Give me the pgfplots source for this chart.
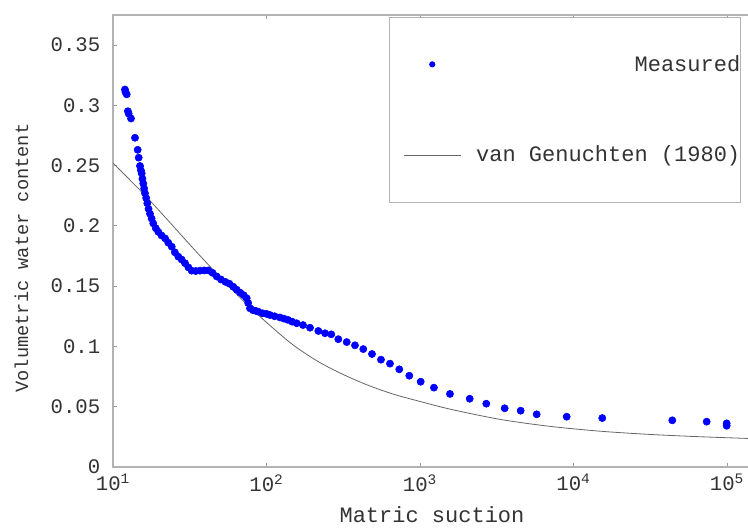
\documentclass[border=0pt]{standalone}
\usepackage{pgfplots}
\pgfplotsset{compat=1.18}
\usepackage{fontspec}
\setmainfont{Liberation Mono}
\begin{document}
\begin{tikzpicture}
\begin{axis}[
  scale only axis,
  width=483.5pt, height=339pt,
  xmode=log,
  xmin=10, xmax=158489,
  ymin=0, ymax=0.3748,
  xtick={10,100,1000,10000,100000},
  xticklabels={10\textsuperscript{1},10\textsuperscript{2},10\textsuperscript{3},10\textsuperscript{4},10\textsuperscript{5}},
  ytick={0,0.05,0.1,0.15,0.2,0.25,0.3,0.35},
  yticklabels={0,0.05,0.1,0.15,0.2,0.25,0.3,0.35},
  xminorticks=false,
  tick align=inside,
  major tick length=3pt,
  tick style={black!40, line width=0.6pt},
  axis line style={black!30, line width=0.8pt},
  ticklabel style={font=\fontsize{15.5}{18}\selectfont, text=black!80},
  yticklabel style={xshift=-6pt},
  xticklabel style={yshift=-2pt},
  every axis x label/.style={at={(rel axis cs:0.4948,0)}, yshift=-36pt, anchor=center, font=\fontsize{16.5}{19}\selectfont, text=black!80},
  every axis y label/.style={at={(rel axis cs:0,0.4624)}, xshift=-68.6pt, rotate=90, anchor=center, font=\fontsize{14}{16}\selectfont, text=black!80},
  xlabel={Matric suction},
  ylabel={Volumetric water content},
  legend cell align=right,
  legend style={
    at={(rel axis cs:0.428,0.9956)}, anchor=north west,
    draw=black!30, line width=0.6pt, fill=white,
    font=\fontsize{16.5}{19}\selectfont, text=black!80,
    inner xsep=0pt, inner ysep=28.5pt,
    row sep=54.5pt,
    nodes={inner sep=0pt},
    /tikz/every odd column/.append style={column sep=11.25pt},
  },
  legend image code/.code={\path (0pt,0pt); \draw[mark repeat=2,mark phase=2,#1] plot coordinates {(10.5pt,0pt) (31.9pt,0pt) (53.3pt,0pt)};},
]
\addplot[only marks, mark=*, mark size=2.7pt, color=blue, legend image post style={mark size=2pt}] coordinates {
(11.97,0.313) (12.05,0.311) (12.28,0.309) (12.50,0.295) (12.65,0.293)
(13.10,0.289) (13.91,0.273) (14.48,0.263) (14.70,0.2565) (14.99,0.2496)
(15.20,0.246) (15.38,0.2435) (15.55,0.239) (15.75,0.235) (15.95,0.231)
(16.16,0.227) (16.45,0.223) (16.73,0.2187) (17.05,0.214) (17.42,0.210)
(17.85,0.206) (18.30,0.202) (19.0,0.198) (19.73,0.195) (20.7,0.192)
(21.83,0.1896) (22.9,0.186) (24.13,0.1827) (25.3,0.178) (26.64,0.1744)
(28.0,0.172) (29.45,0.169) (31.0,0.1655) (32.56,0.1628) (34.6,0.1625)
(36.88,0.1628) (39.3,0.163) (41.77,0.163) (44.5,0.161) (47.38,0.158)
(50.5,0.1555) (54.0,0.1535) (57.3,0.152) (60.77,0.1495) (64,0.147)
(67.5,0.1445) (71,0.1425) (74.3,0.140) (76,0.136) (78.07,0.1316)
(81.67,0.130) (84.9,0.1295) (88.45,0.1288) (94,0.1275) (100,0.127)
(105.4,0.126) (113,0.125) (122.4,0.124) (130,0.123) (138,0.122)
(147,0.1205) (157.3,0.1192) (172.9,0.1177) (192.1,0.1155) (217.6,0.1128)
(240.5,0.1109) (264.3,0.110) (293.7,0.106) (333.1,0.1036) (377.2,0.1009)
(427.2,0.0978) (486.8,0.0937) (557.0,0.089) (637.6,0.0857) (733.2,0.081)
(851.9,0.0757) (1010.5,0.0707) (1233,0.0658) (1568,0.0606) (2108,0.0566)
(2704,0.0525) (3563,0.0487) (4529,0.0467) (5758,0.0437) (9031,0.0417)
(15400,0.0406) (44020,0.0387) (73770,0.0376) (99540,0.0362) (99540,0.0342)
};
\addlegendentry{Measured}
\addplot[smooth, color=black!60, line width=0.6pt, mark=none] coordinates {
(10,0.2520) (15.68,0.2270) (22.82,0.2045) (33.20,0.1815) (48.31,0.1592)
(70.30,0.1380) (102.3,0.1188) (148.8,0.1013) (216.5,0.0875) (315.0,0.0768)
(458.5,0.0678) (667.0,0.0605) (970.4,0.0548) (1568,0.0480) (3320,0.0395)
(7030,0.0337) (14880,0.0297) (31500,0.0270) (66700,0.0251) (158489,0.0234)
};
\addlegendentry{van Genuchten (1980)}
\end{axis}
\pgfresetboundingbox
\path (-84.75pt,-45.75pt) rectangle (476.25pt,350.25pt);
\end{tikzpicture}
\end{document}
